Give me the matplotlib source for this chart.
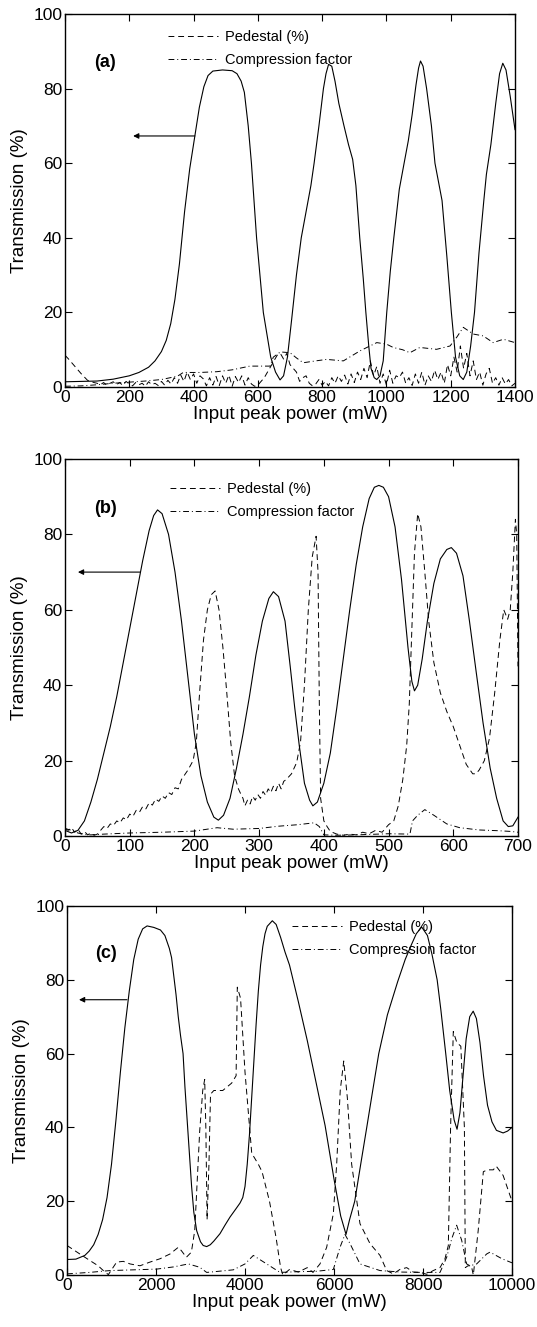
import matplotlib
matplotlib.use('Agg')
import matplotlib.pyplot as plt
import numpy as np

plt.rcParams['font.family'] = ['Liberation Sans', 'DejaVu Sans']

# ---- panel (a) ----
a_trans_x = [0, 100, 150, 200, 230, 260, 280, 300, 315, 329, 342, 356, 372, 388, 404, 418,
             432, 445, 460, 490, 520, 535, 548, 558, 570, 580, 596, 617, 640, 655, 669, 680,
             692, 705, 720, 735, 750, 765, 775, 790, 804, 812, 820, 830, 840, 852, 868, 882,
             895, 905, 917, 928, 936, 945, 952, 962, 970, 980, 990, 1001, 1012, 1023, 1040,
             1055, 1068, 1080, 1092, 1100, 1106, 1114, 1125, 1140, 1151, 1162, 1173, 1188,
             1202, 1215, 1228, 1239, 1250, 1262, 1274, 1288, 1303, 1311, 1325, 1340, 1352,
             1362, 1372, 1385, 1400]
a_trans_y = [1.4, 1.6, 2.1, 3.0, 3.9, 5.3, 7.0, 9.5, 12.5, 17, 23.5, 33, 47, 58.5, 67.3, 75,
             80.5, 83.5, 84.7, 85, 84.8, 84, 82, 79, 70, 60, 40, 20, 8, 4, 1.9, 3,
             8, 18, 30, 40, 47, 54, 60, 70, 80, 84, 86.5, 86, 82, 76, 70, 65,
             61, 54, 40, 29, 20, 11, 5, 2.5, 2, 3, 7, 20, 31, 40, 53,
             60, 66, 73, 81, 85.5, 87.4, 86, 80, 70, 60, 55, 50, 35,
             20, 8, 3, 2, 4, 11, 20, 36, 50, 57, 65, 76, 84,
             86.8, 85, 78, 69]

a_ped_x = np.arange(0, 1401, 10)
a_ped_y = [8.5, 7.6, 6.6, 5.6, 4.6, 3.6, 2.7, 1.8, 1.5, 1.2, 1.0, 0.6, 1.2, 0.5, 1.0, 1.4, 0.6,
           1.2, 0.4, 1.5, 0.8, 0.3, 1.2, 0.6, 1.0, 0.2, 1.4, 0.6, 1.0, 0.4, 1.5, 0.5, 1.8,
           0.8, 2.5, 1.0, 3.2, 1.5, 4.0, 2.0, 3.5, 1.0, 3.0, 2.2, 0.3, 2.5, 0.5, 2.8, 0.4,
           3.0, 1.0, 3.2, 0.2, 2.8, 1.2, 3.0, 0.5, 2.5, 0.8, 0.2, 0.5, 1.5, 2.5, 4.0, 5.5,
           7.0, 8.5, 9.0, 7.5, 9.0, 6.0, 5.0, 4.0, 1.5, 2.5, 3.0, 1.0, 0.3, 0.8, 2.0, 0.5,
           1.5, 0.3, 2.5, 1.0, 3.0, 1.5, 3.2, 0.8, 3.5, 1.2, 4.0, 2.0, 5.0, 2.5, 7.0, 3.0,
           5.5, 1.0, 3.5, 0.5, 4.5, 1.0, 3.0, 2.5, 4.0, 1.0, 2.5, 0.4, 3.5, 1.0, 4.0, 0.5,
           3.0, 1.5, 4.5, 2.0, 4.0, 1.0, 6.0, 3.0, 8.0, 4.0, 11.0, 5.0, 9.0, 3.0, 7.0, 2.0,
           4.0, 0.5, 3.5, 5.0, 1.0, 2.5, 0.5, 2.5, 0.8, 2.0, 0.3, 1.0]

a_comp_x = [0, 50, 100, 150, 200, 250, 300, 350, 368, 420, 472, 520, 575, 638, 648, 670, 700,
            720, 741, 780, 814, 866, 918, 970, 1000, 1021, 1050, 1073, 1104, 1156, 1198,
            1220, 1239, 1270, 1301, 1332, 1364, 1400]
a_comp_y = [0.2, 0.3, 0.6, 1.0, 1.3, 1.6, 2.0, 2.9, 3.9, 3.9, 4.1, 4.6, 5.6, 5.6, 8.0, 9.4, 9.2,
            7.8, 6.5, 7.0, 7.4, 7.0, 9.7, 11.9, 11.5, 10.6, 10.0, 9.2, 10.6, 10.1, 11.0,
            13.5, 16.0, 14.2, 13.7, 11.9, 12.8, 11.9]

# ---- panel (b) ----
b_trans_x = [0, 10, 20, 30, 40, 50, 60, 70, 80, 90, 100, 110, 120, 130, 137, 143, 150, 160,
             170, 180, 190, 200, 210, 220, 230, 237, 245, 255, 265, 275, 285, 295, 305, 315,
             322, 330, 340, 348, 355, 362, 370, 378, 383, 390, 400, 410, 420, 430, 440, 450,
             460, 470, 478, 485, 492, 500, 510, 520, 530, 536, 540, 545, 552, 560, 570, 580,
             590, 597, 605, 615, 625, 635, 646, 657, 667, 677, 685, 692, 700]
b_trans_y = [1.5, 0.8, 1.5, 4, 9, 15, 22, 29, 37, 46, 55, 64, 73, 81, 85, 86.5, 85.5, 80,
             70, 57, 42, 27, 16, 9, 5, 4.2, 5.5, 10, 18, 27, 37, 48, 57, 63,
             64.8, 63.5, 57, 45, 34, 24, 14, 9.5, 8, 9, 14, 22, 34, 47, 60, 72,
             82, 89.5, 92.5, 93, 92.5, 90, 82, 68, 50, 41, 38.5, 40, 47, 57, 67, 73.5,
             76, 76.5, 75, 69, 57, 44, 30, 18, 10, 4, 2.5, 2.7, 5]

b_ped_x = [0, 5, 10, 15, 20, 25, 30, 35, 40, 45, 50, 55, 60, 65, 70, 75, 80, 85, 90, 95, 100,
           105, 110, 115, 120, 125, 130, 135, 140, 145, 150, 155, 160, 165, 170, 175, 180,
           190, 198, 203, 208, 214, 220, 226, 232, 238, 244, 250, 256, 262, 268, 272, 275,
           278, 282, 286, 290, 294, 298, 302, 306, 310, 314, 318, 322, 326, 330, 334, 338,
           342, 350, 358, 364, 370, 376, 382, 388, 391, 393, 395, 400, 405, 410, 420, 430,
           440, 450, 460, 470, 480, 490, 500, 508, 515, 522, 528, 532, 536, 540, 545, 550,
           556, 562, 570, 580, 590, 600, 610, 620, 630, 635, 640, 648, 656, 664, 672, 678,
           684, 688, 692, 696, 698, 700]
b_ped_y = [2.0, 1.5, 2.2, 1.0, 1.8, 0.5, 1.2, 0.3, 0.8, 0.2, 0.5, 1.5, 2.5, 2.0, 3.2, 2.8,
           4.0, 3.5, 4.8, 4.3, 5.8, 5.2, 6.8, 6.3, 7.8, 7.2, 8.8, 8.2, 9.8, 9.2, 10.6, 10.0,
           11.5, 11.0, 12.8, 12.5, 15.0, 17.5, 20, 25, 38, 52, 60, 64, 65, 60, 50, 38, 25,
           16, 12.5, 11, 10, 8, 9.5, 8.5, 10.5, 9.5, 11, 10, 11.8, 10.8, 12.5, 11.5, 13.2,
           12.0, 14, 12.5, 14.5, 15, 16.5, 19.5, 25, 40, 60, 74, 79.5, 70, 35, 10, 4, 2.5,
           1.2, 0.5, 0.2, 0.5, 0.3, 1.0, 0.6, 1.5, 1.0, 3.0, 4.0, 8, 15, 24, 35, 55, 75,
           85.5, 82, 70, 57, 46, 38, 33, 29, 24, 19, 16.5, 16.5, 17.5, 20, 26, 38, 52, 60,
           57.5, 60, 70, 84, 80, 45]

b_comp_x = [0, 10, 20, 30, 40, 60, 100, 150, 200, 235, 260, 300, 330, 360, 385, 393, 400,
            420, 450, 500, 533, 537, 545, 556, 570, 590, 610, 640, 670, 690, 700]
b_comp_y = [2.0, 1.5, 0.8, 0.4, 0.3, 0.5, 0.8, 1.0, 1.3, 2.2, 1.8, 2.0, 2.6, 3.0, 3.5, 2.5,
            0.3, 0.2, 0.3, 0.6, 0.5, 4.0, 5.5, 7.0, 5.5, 3.2, 2.2, 1.6, 1.4, 1.2, 1.0]

# ---- panel (c) ----
c_trans_x = [0, 200, 400, 500, 600, 700, 800, 900, 1000, 1100, 1200, 1300, 1400, 1500, 1600,
             1700, 1800, 1950, 2100, 2200, 2300, 2350, 2400, 2450, 2500, 2550, 2608, 2650,
             2700, 2750, 2800, 2850, 2914, 3000, 3060, 3139, 3220, 3300, 3438, 3550, 3663,
             3800, 3888, 3950, 4000, 4050, 4100, 4150, 4200, 4250, 4300, 4350, 4400, 4450,
             4500, 4614, 4700, 4800, 4900, 5000, 5200, 5400, 5600, 5800, 6000, 6150, 6270,
             6350, 6466, 6600, 6736, 6870, 7006, 7200, 7431, 7600, 7739, 7850, 7971, 8100,
             8200, 8318, 8400, 8511, 8600, 8700, 8765, 8830, 8900, 8970, 9050, 9128, 9200,
             9280, 9360, 9450, 9550, 9650, 9800, 9900, 10000]
c_trans_y = [4.2, 4.3, 5.3, 6.5, 8.2, 11, 15, 21, 30, 42, 55, 67, 77, 85.5, 91,
             93.8, 94.6, 94.2, 93.5, 92, 88.5, 86, 81, 76, 70, 65, 60, 51,
             42, 33, 24, 17, 12, 9, 8, 7.7, 8.2, 9.2, 11.2, 13.5, 15.7,
             18, 19.5, 21, 24, 30, 38, 48, 58, 68, 77, 84, 89, 92.5,
             94.5, 96, 95, 91.5, 87.5, 84, 74, 63.5, 52, 40.5, 26, 16, 11,
             15, 20, 30, 40, 50, 60, 70.5, 79.5, 85.5, 89.5, 92.5, 94.3, 92,
             87, 80, 72, 60, 50, 42, 39.5, 44, 54, 64, 70, 71.5, 69.5,
             63, 54, 46, 41.5, 39.2, 38.5, 39, 40]

c_ped_x = [0, 250, 517, 700, 816, 929, 1116, 1266, 1416, 1640, 1865, 2090, 2315, 2500, 2570,
           2682, 2795, 2870, 2982, 3050, 3094, 3120, 3148, 3190, 3225, 3300, 3500, 3700,
           3800, 3827, 3900, 4000, 4151, 4300, 4383, 4550, 4700, 4800, 4850, 5000, 5200,
           5400, 5528, 5685, 5835, 5985, 6060, 6140, 6219, 6300, 6397, 6584, 6809, 7034,
           7184, 7333, 7480, 7633, 7780, 7933, 8083, 8230, 8382, 8494, 8569, 8620, 8681,
           8760, 8850, 8930, 8951, 9011, 9086, 9131, 9240, 9356, 9450, 9580, 9645, 9800,
           10000]
c_ped_y = [8, 6, 3.9, 2.5, 1.2, 0.1, 3.5, 3.7, 3.0, 2.5, 3.5, 4.4, 5.7, 7.5, 6.6,
           4.8, 6.2, 12, 39, 50, 53, 40, 15, 30, 49, 50, 50, 52,
           54, 78, 75, 55, 33, 30, 28, 20, 10, 2, 0, 1.5, 0.8,
           2.0, 0.7, 3, 7.5, 16.6, 30, 50, 58, 48, 30, 13.9, 8.5, 5.3,
           1.2, 0.3, 1.5, 2.0, 0.8, 0.7, 0.2, 1.2, 2.0, 4.4, 8, 40, 66,
           63, 62, 40, 2, 2.5, 2.5, 0, 12, 28, 28.5, 28.5, 29.5, 27,
           20]

c_comp_x = [0, 500, 966, 1500, 2015, 2400, 2727, 2982, 3139, 3400, 3738, 4000, 4187, 4487,
            4787, 5200, 5600, 5985, 6135, 6247, 6360, 6584, 7034, 7500, 8000, 8382, 8532,
            8650, 8756, 8869, 8981, 9056, 9206, 9431, 9506, 9775, 10000]
c_comp_y = [0.3, 0.7, 1.2, 1.4, 1.6, 2.2, 3.0, 2.1, 0.7, 1.0, 1.4, 3.0, 5.3, 3.0,
            0.7, 0.9, 1.0, 1.5, 7.5, 11, 8.5, 3.0, 1.2, 0.8, 0.7, 0.7, 4.8,
            10, 13.5, 9.4, 3.0, 2.5, 3.0, 5.7, 6.2, 4.4, 3.3]

panels = [
    dict(tx=a_trans_x, ty=a_trans_y, px=a_ped_x, py=a_ped_y, cx=a_comp_x, cy=a_comp_y,
         xmax=1400, xticks=[0, 200, 400, 600, 800, 1000, 1200, 1400], tag='(a)',
         rect=[65, 14, 515, 387], leg=(0.229, 0.944), arrow=((212, 67.3), (404, 67.3))),
    dict(tx=b_trans_x, ty=b_trans_y, px=b_ped_x, py=b_ped_y, cx=b_comp_x, cy=b_comp_y,
         xmax=700, xticks=[0, 100, 200, 300, 400, 500, 600, 700], tag='(b)',
         rect=[65, 459, 518, 836], leg=(0.232, 0.926), arrow=((20, 70), (116, 70))),
    dict(tx=c_trans_x, ty=c_trans_y, px=c_ped_x, py=c_ped_y, cx=c_comp_x, cy=c_comp_y,
         xmax=10000, xticks=[0, 2000, 4000, 6000, 8000, 10000], tag='(c)',
         rect=[67, 906, 512, 1275], leg=(0.506, 0.948), arrow=((270, 74.6), (1348, 74.6))),
]

W, H = 537, 1327
fig = plt.figure(figsize=(W / 100, H / 100), dpi=100)

for p in panels:
    l, t, r, b = p['rect']
    ax = fig.add_axes([l / W, 1 - b / H, (r - l) / W, (b - t) / H])
    ax.plot(p['tx'], p['ty'], color='k', lw=0.8)
    ax.plot(p['px'], p['py'], color='k', lw=0.7, linestyle=(0, (6, 4)), label='Pedestal (%)')
    ax.plot(p['cx'], p['cy'], color='k', lw=0.7, linestyle=(0, (6, 3, 1, 3)),
            label='Compression factor')
    ax.set_xlim(0, p['xmax'])
    ax.set_ylim(0, 100)
    ax.set_xticks(p['xticks'])
    ax.set_yticks([0, 20, 40, 60, 80, 100])
    ax.tick_params(direction='in', top=True, right=True, length=5, width=0.8,
                   labelsize=12.5, pad=2)
    for s in ax.spines.values():
        s.set_linewidth(1.0)
    ax.set_xlabel('Input peak power (mW)', fontsize=13.5, labelpad=1)
    ax.set_ylabel('Transmission (%)', fontsize=13.5, labelpad=4)
    ax.text(0.064, 0.87, p['tag'], transform=ax.transAxes, fontsize=13,
            fontweight='bold', va='center', ha='left')
    head, tail = p['arrow']
    ax.annotate('', xy=head, xytext=tail,
                arrowprops=dict(arrowstyle='-|>', color='k', lw=0.8, mutation_scale=8,
                                shrinkA=0, shrinkB=0))
    leg = ax.legend(loc='center left', frameon=False,
                    fontsize=10.5, handlelength=3.4, handletextpad=0.5,
                    labelspacing=0.6, borderpad=0, borderaxespad=0)
    leg.set_bbox_to_anchor((p['leg'][0], p['leg'][1] - 0.037), transform=ax.transAxes)

fig.savefig('out.png', dpi=100)
